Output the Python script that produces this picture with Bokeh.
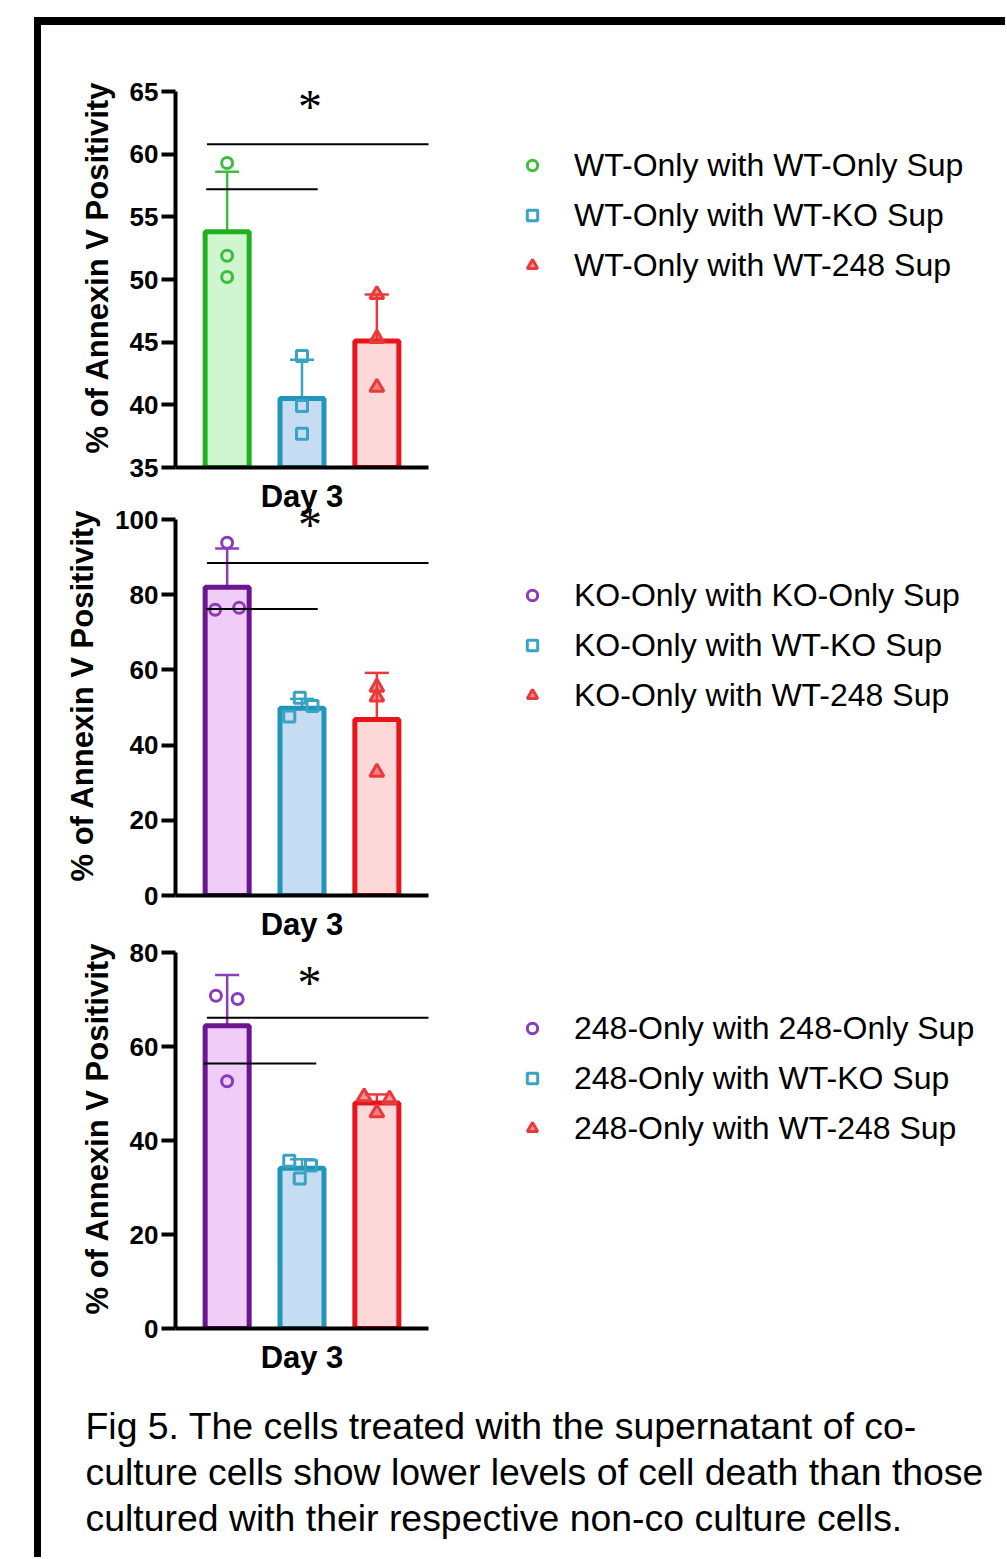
import numpy as np
from bokeh.plotting import figure
from bokeh.models import (Range1d, FixedTicker, Legend, LegendItem, Whisker, TeeHead,
                          ColumnDataSource, LabelSet, Title)
from bokeh.layouts import column
from bokeh.embed import file_html
from bokeh.resources import INLINE

# ---------------- data ----------------
x_positions = [1, 2, 3]
x_tick_label = "Day 3"
y_axis_label = "% of Annexin V Positivity"

caption_lines = [
    "Fig 5. The cells treated with the supernatant of co-",
    "culture cells show lower levels of  cell death than those",
    "cultured with their respective non-co culture cells.",
]

# panel 1 (WT)
p1_labels = ["WT-Only with WT-Only Sup", "WT-Only with WT-KO Sup", "WT-Only with WT-248 Sup"]
p1_means = [53.8, 40.5, 45.1]
p1_err_low = [49.0, 37.4, 41.4]
p1_err_high = [58.6, 43.6, 48.8]
p1_points = [[59.3, 51.9, 50.2], [43.9, 39.9, 37.7], [48.8, 45.3, 41.4]]
p1_jitter = [[0.0, 0.0, 0.0], [0.0, 0.0, 0.0], [0.0, 0.0, 0.0]]
p1_yrange = [35, 65]
p1_yticks = [35, 40, 45, 50, 55, 60, 65]
p1_sig_y = [60.8, 57.2]
p1_sig_x0 = [0.73, 0.72]
p1_sig_x1 = [3.69, 2.21]
p1_star_x = [2.107]
p1_star_y = [63.8]

# panel 2 (KO)
p2_labels = ["KO-Only with KO-Only Sup", "KO-Only with WT-KO Sup", "KO-Only with WT-248 Sup"]
p2_means = [82.0, 49.8, 46.8]
p2_err_low = [72.1, 47.3, 35.0]
p2_err_high = [92.3, 52.3, 59.2]
p2_points = [[93.8, 76.0, 76.5], [52.6, 50.4, 47.6], [55.4, 52.8, 32.8]]
p2_jitter = [[0.0, -0.16, 0.16], [-0.03, 0.14, -0.17], [0.0, 0.0, 0.0]]
p2_yrange = [0, 100]
p2_yticks = [0, 20, 40, 60, 80, 100]
p2_sig_y = [88.4, 76.2]
p2_sig_x0 = [0.73, 0.72]
p2_sig_x1 = [3.69, 2.21]
p2_star_x = [2.107]
p2_star_y = [98.7]

# panel 3 (248)
p3_labels = ["248-Only with 248-Only Sup", "248-Only with WT-KO Sup", "248-Only with WT-248 Sup"]
p3_means = [64.4, 34.1, 48.0]
p3_err_low = [54.0, 32.2, 46.4]
p3_err_high = [75.2, 36.0, 49.8]
p3_points = [[70.8, 70.1, 52.6], [35.7, 34.7, 31.9], [49.3, 48.8, 45.9]]
p3_jitter = [[-0.15, 0.14, 0.0], [-0.17, 0.12, -0.03], [-0.17, 0.17, 0.0]]
p3_yrange = [0, 80]
p3_yticks = [0, 20, 40, 60, 80]
p3_sig_y = [66.1, 56.4]
p3_sig_x0 = [0.73, 0.69]
p3_sig_x1 = [3.69, 2.19]
p3_star_x = [2.1]
p3_star_y = [73.6]

# ---------------- styles / layout ----------------
FONT = "Liberation Sans"
GREEN = ("#22b022", "#cff6cf", "#40bb40")
BLUE = ("#2196b6", "#c6dcf2", "#3aa2c2")
RED = ("#e8141c", "#fdd8d8", "#e83a3a")
PURPLE = ("#6b168f", "#efcdf6", "#8a3cbc")
MARKERS = ["circle", "square", "triangle"]

FIG_W = 964
X_START, X_AXIS_END = 0.31, 3.69
LEFT = 134            # canvas left -> y axis (canvas starts at page x=41)
AXIS_W = 253          # drawn length of x axis
FRAME_W = FIG_W - LEFT - 5
AXIS_H = 376          # drawn length of y axis
EXTRA = 24            # free room above the y axis top inside the frame
FRAME_H = AXIS_H + EXTRA
X_END = X_START + (X_AXIS_END - X_START) * FRAME_W / AXIS_W


def make_panel(labels, means, lo, hi, points, jitter, yrange, yticks,
               sig_y, sig_x0, sig_x1, star_x, star_y, colors, top, bottom_b,
               legend_vy):
    ymin, ymax = yrange
    y_end = ymax + EXTRA * (ymax - ymin) / AXIS_H
    p = figure(frame_width=FRAME_W, frame_height=FRAME_H, output_backend="svg",
               toolbar_location=None, x_range=Range1d(X_START, X_END),
               y_range=Range1d(ymin, y_end), min_border_left=LEFT,
               min_border_right=5, min_border_top=top,
               min_border_bottom=bottom_b,
               border_fill_color=None, background_fill_color=None,
               outline_line_color=None)
    p.grid.visible = False

    for ax in (p.xaxis[0], p.yaxis[0]):
        ax.axis_line_width = 4
        ax.axis_line_color = "black"
        ax.major_tick_line_width = 4
        ax.minor_tick_line_color = None
        ax.major_label_text_font = FONT
        ax.major_label_text_font_style = "bold"
        ax.major_label_text_color = "black"
    p.yaxis.ticker = FixedTicker(ticks=yticks)
    p.yaxis.bounds = (ymin, ymax)
    p.yaxis.major_tick_out = 14
    p.yaxis.major_tick_in = 0
    p.yaxis.major_label_standoff = 3
    p.yaxis.major_label_text_font_size = "26px"
    p.yaxis.axis_label = y_axis_label
    p.yaxis.axis_label_text_font = FONT
    p.yaxis.axis_label_text_font_style = "bold"
    p.yaxis.axis_label_text_font_size = "31px"
    p.yaxis.axis_label_text_color = "black"
    p.yaxis.axis_label_standoff = 12

    p.xaxis.ticker = FixedTicker(ticks=[2])
    p.xaxis.bounds = (X_START, X_AXIS_END)
    p.xaxis.major_label_overrides = {2: x_tick_label}
    p.xaxis.major_tick_line_color = None
    p.xaxis.major_tick_out = 0
    p.xaxis.major_tick_in = 0
    p.xaxis.major_label_standoff = 11
    p.xaxis.major_label_text_font_size = "31px"

    items = []
    for i in range(3):
        stroke, fill, pt = colors[i]
        p.vbar(x=[x_positions[i]], top=[means[i]], bottom=ymin, width=0.588,
               fill_color=fill, line_color=stroke, line_width=5)
        src = ColumnDataSource(dict(x=[x_positions[i]], lo=[lo[i]], hi=[hi[i]]))
        p.add_layout(Whisker(source=src, base="x", lower="lo", upper="hi",
                             line_color=pt, line_width=2.5,
                             lower_head=TeeHead(size=24, line_color=pt, line_width=2.5),
                             upper_head=TeeHead(size=24, line_color=pt, line_width=2.5)))
        xs = [x_positions[i] + j for j in jitter[i]]
        if MARKERS[i] == "triangle":
            r = p.scatter(x=xs, y=points[i], marker="triangle", size=14,
                          line_color=pt, line_width=3, fill_color=pt, fill_alpha=0.55)
        else:
            r = p.scatter(x=xs, y=points[i], marker=MARKERS[i], size=11,
                          line_color=pt, line_width=3, fill_color=None)
        items.append(LegendItem(label=labels[i], renderers=[r]))

    p.segment(x0=sig_x0, y0=sig_y, x1=sig_x1, y1=sig_y, line_color="black",
              line_width=2)
    star_src = ColumnDataSource(dict(x=star_x, y=star_y, t=["*"] * len(star_x)))
    p.add_layout(LabelSet(source=star_src, x="x", y="y", text="t",
                          text_align="center", text_baseline="middle",
                          text_font="DejaVu Sans", text_font_size="48px",
                          text_color="black"))

    legend = Legend(items=items, location=(344, legend_vy), orientation="vertical",
                    glyph_width=26, glyph_height=40, label_height=40, spacing=10,
                    padding=0, margin=0, label_standoff=29,
                    label_text_font=FONT, label_text_font_size="32px",
                    label_text_color="black",
                    background_fill_alpha=0, border_line_color=None)
    p.add_layout(legend)
    return p


c1 = [GREEN, BLUE, RED]
c2 = [PURPLE, BLUE, RED]

fig1 = make_panel(p1_labels, p1_means, p1_err_low, p1_err_high, p1_points, p1_jitter,
                  p1_yrange, p1_yticks, p1_sig_y, p1_sig_x0, p1_sig_x1,
                  p1_star_x, p1_star_y, c1, top=42, bottom_b=58, legend_vy=182)
fig2 = make_panel(p2_labels, p2_means, p2_err_low, p2_err_high, p2_points, p2_jitter,
                  p2_yrange, p2_yticks, p2_sig_y, p2_sig_x0, p2_sig_x1,
                  p2_star_x, p2_star_y, c2, top=0, bottom_b=60, legend_vy=180)
fig3 = make_panel(p3_labels, p3_means, p3_err_low, p3_err_high, p3_points, p3_jitter,
                  p3_yrange, p3_yticks, p3_sig_y, p3_sig_x0, p3_sig_x1,
                  p3_star_x, p3_star_y, c2, top=3, bottom_b=57, legend_vy=180)
fig2.margin = (-30, 0, 0, 0)
fig3.margin = (-30, 0, 0, 0)

# caption
cap = figure(frame_width=FRAME_W, frame_height=1, min_border_left=LEFT,
             min_border_right=5, min_border_top=15, min_border_bottom=156,
             x_axis_type=None, y_axis_type=None, output_backend="svg",
             toolbar_location=None, border_fill_color=None,
             background_fill_color=None, outline_line_color=None)
for line in caption_lines:
    cap.add_layout(Title(text=line, align="left", offset=-90, text_font=FONT,
                         text_font_size="37.4px", text_font_style="normal",
                         text_color="black", standoff=2), "below")

layout = column(fig1, fig2, fig3, cap, margin=(17, 0, 0, 34),
                styles={"border-left": "7px solid black",
                        "border-top": "8px solid black"})

open("out.html", "w").write(file_html(layout, INLINE))
